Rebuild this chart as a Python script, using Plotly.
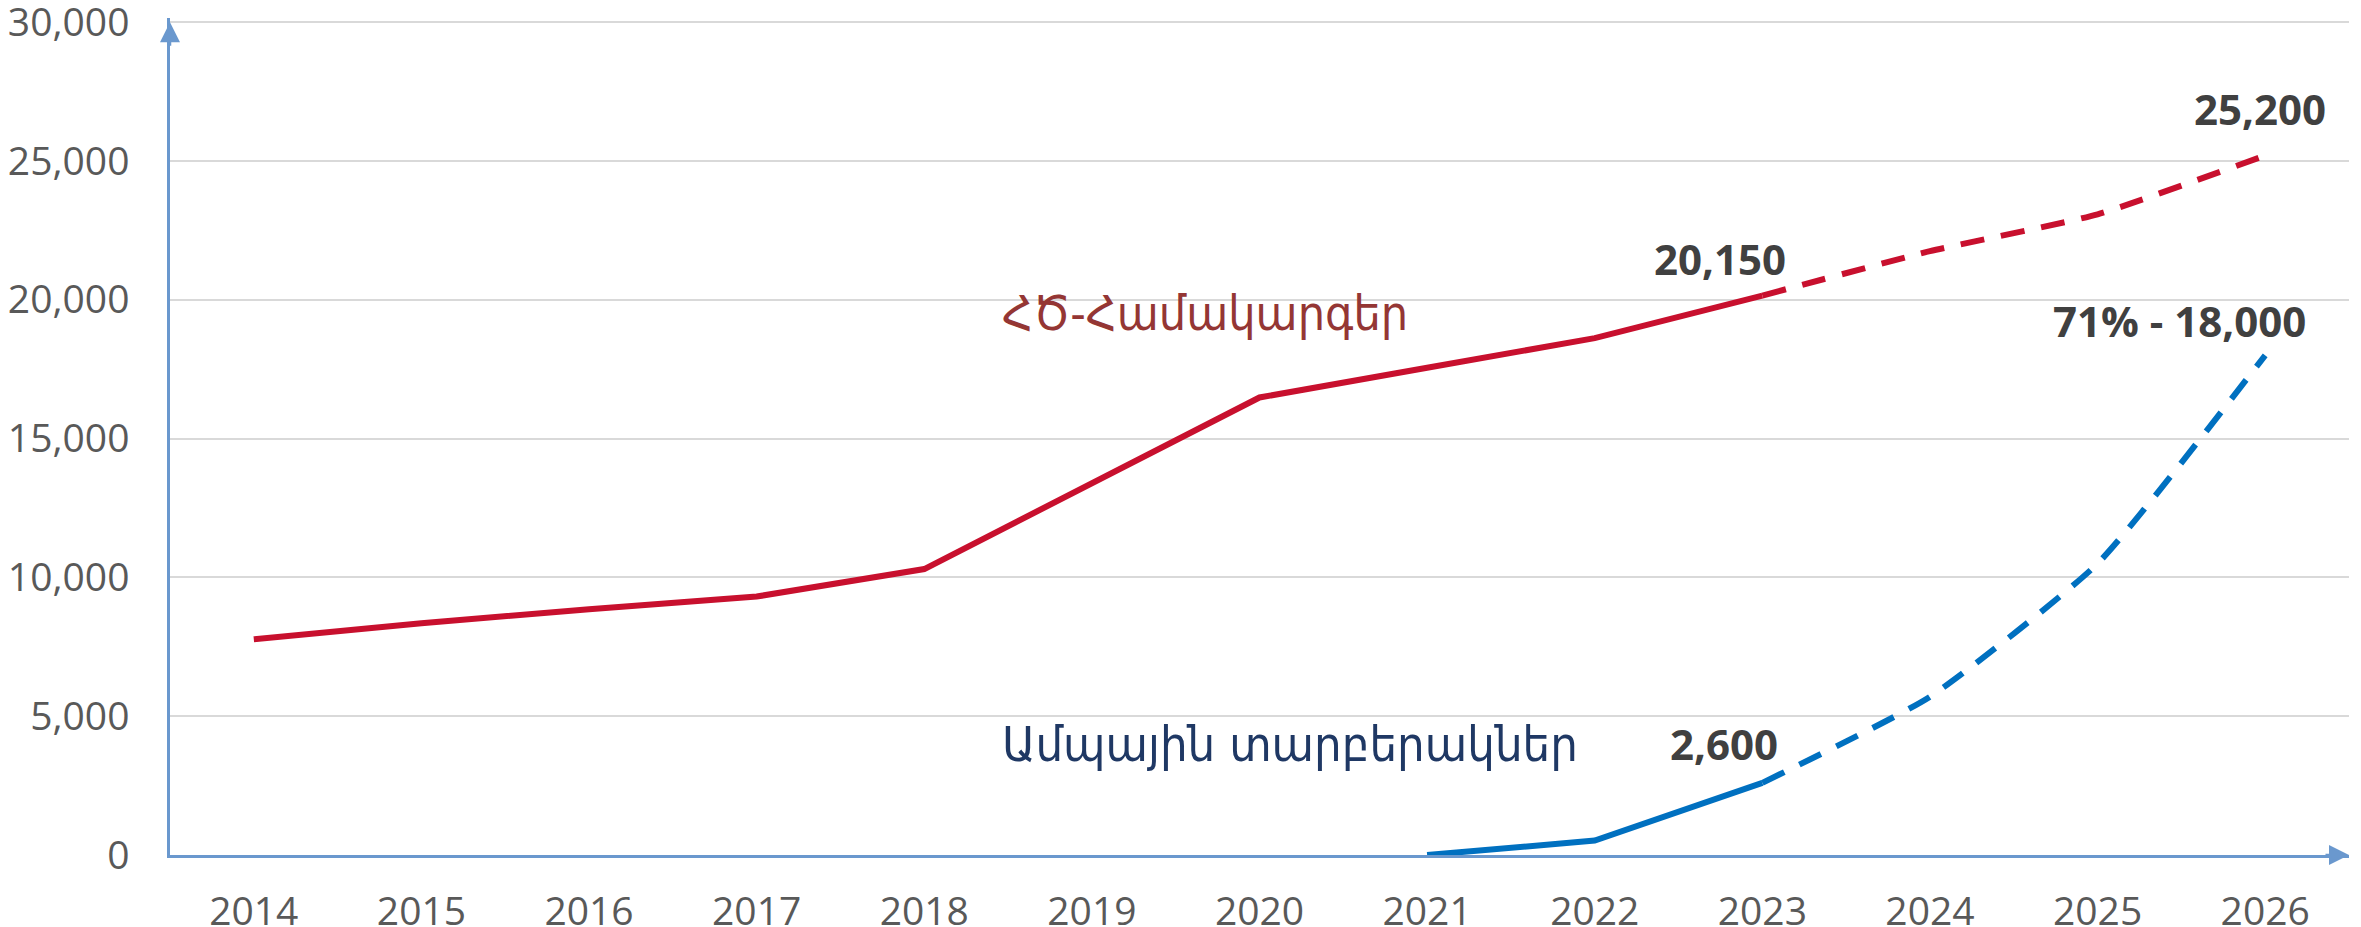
import plotly.graph_objects as go

years = [2014, 2015, 2016, 2017, 2018, 2019, 2020, 2021, 2022, 2023, 2024, 2025, 2026]
hs_systems = [7770, 8350, 8850, 9310, 10300, 13400, 16480, 17550, 18620, 20150, 21750, 23080, 25200]
cloud_versions = [None, None, None, None, None, None, None, 0, 520, 2600, 5700, 10500, 18000]
last_actual_year = 2023

series_name_red = "ՀԾ-Համակարգեր"
series_name_blue = "Ամպային տարբերակներ"
label_red_2023 = "20,150"
label_red_2026 = "25,200"
label_blue_2023 = "2,600"
label_blue_2026 = "71% - 18,000"

y_ticks = [0, 5000, 10000, 15000, 20000, 25000, 30000]

RED = "#C8102E"
BLUE = "#0070C0"
AXIS = "#6A98CE"
GRID = "#D9D9D9"
TICK = "#595959"
LABEL = "#404040"

k = years.index(last_actual_year)

fig = go.Figure()

def add_series(vals, color):
    xs_a = [x for x, v in zip(years[:k + 1], vals[:k + 1]) if v is not None]
    ys_a = [v for v in vals[:k + 1] if v is not None]
    xs_f = years[k:]
    ys_f = vals[k:]
    fig.add_trace(go.Scatter(x=xs_a, y=ys_a, mode="lines",
                             line=dict(color=color, width=6), hoverinfo="skip"))
    fig.add_trace(go.Scatter(x=xs_f, y=ys_f, mode="lines",
                             line=dict(color=color, width=6, dash="24px,17px",
                                       shape="spline", smoothing=0.5),
                             hoverinfo="skip"))

add_series(hs_systems, RED)
add_series(cloud_versions, BLUE)

bold = dict(family="Open Sans", size=42, color=LABEL, weight="bold")
ann = [
    dict(x=2023, y=hs_systems[k], text=label_red_2023, xshift=-42, yshift=37),
    dict(x=2026, y=hs_systems[-1], text=label_red_2026, xshift=-5, yshift=47),
    dict(x=2026, y=cloud_versions[-1], text=label_blue_2026, xshift=-86, yshift=35),
    dict(x=2023, y=cloud_versions[k], text=label_blue_2023, xshift=-38, yshift=39),
]
for a in ann:
    fig.add_annotation(xref="x", yref="y", showarrow=False, font=bold,
                       xanchor="center", yanchor="middle", **a)

arm_font = "DejaVu Sans Condensed, DejaVu Sans"
fig.add_annotation(xref="x", yref="y", x=2018.45, y=19530, text=series_name_red,
                   showarrow=False, xanchor="left", yanchor="middle",
                   font=dict(family=arm_font, size=48, color="#943634"))
fig.add_annotation(xref="x", yref="y", x=2018.45, y=4000, text=series_name_blue,
                   showarrow=False, xanchor="left", yanchor="middle",
                   font=dict(family=arm_font, size=48.5, color="#1F3864"))

# axis arrowheads
fig.add_annotation(xref="paper", yref="y", x=0, y=30000, ax=0, ay=25, text="",
                   showarrow=True, arrowhead=2, arrowsize=1.6, arrowwidth=2.5,
                   arrowcolor=AXIS, standoff=0)
fig.add_annotation(xref="paper", yref="paper", x=1, y=0, ax=-25, ay=0, text="",
                   showarrow=True, arrowhead=2, arrowsize=1.6, arrowwidth=2.5,
                   arrowcolor=AXIS, standoff=0)

# page body has an 8px margin: figure sized to sit inside the window
fig.update_layout(
    width=2353, height=919,
    margin=dict(l=162, r=12, t=10, b=72),
    paper_bgcolor="white", plot_bgcolor="white",
    showlegend=False,
    font=dict(family="Open Sans", color=TICK),
)
fig.update_xaxes(
    range=[2013.5, 2026.5], tickmode="array", tickvals=years,
    ticktext=[str(y) for y in years], automargin=False,
    showgrid=False, zeroline=False, showline=True, linecolor=AXIS, linewidth=2.5,
    ticks="", tickfont=dict(family="Open Sans", size=39, color=TICK),
    ticklabelstandoff=20, ticklabeloverflow="allow",
)
fig.update_yaxes(
    range=[0, 30150], tickmode="array", tickvals=y_ticks,
    ticktext=[f"{v:,}" for v in y_ticks], automargin=False,
    showgrid=True, gridcolor=GRID, gridwidth=1.5, zeroline=False,
    showline=True, linecolor=AXIS, linewidth=2.5,
    ticks="", tickfont=dict(family="Open Sans", size=39, color=TICK),
    ticklabelstandoff=30, ticklabeloverflow="allow",
)

fig.write_html("out.html")
